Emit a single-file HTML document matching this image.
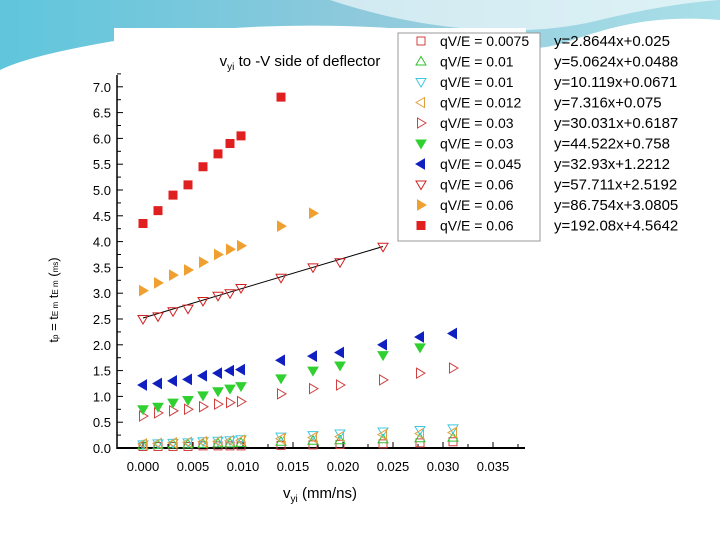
<!DOCTYPE html>
<html><head><meta charset="utf-8"><style>
body{margin:0;width:720px;height:540px;overflow:hidden;background:#fff;font-family:"Liberation Sans",sans-serif}
</style></head><body>
<svg width="720" height="540" viewBox="0 0 720 540" style="position:absolute;left:0;top:0">
<defs>
<linearGradient id="bg" x1="0" y1="0" x2="1" y2="0"><stop offset="0" stop-color="#5fc6dc"/><stop offset="0.5" stop-color="#8ec9dc"/><stop offset="1" stop-color="#a9dfe8"/></linearGradient>
</defs>
<path d="M0 0 H720 V20 C600 10 560 60 520 45 C400 20 250 20 120 40 C60 50 20 60 0 70 Z" fill="url(#bg)"/>
<path d="M330 0 C420 30 520 40 600 20 C650 8 690 2 720 0 Z" fill="#fff" opacity="0.6"/>
<rect x="114" y="28" width="412" height="482" fill="#fff"/>
<text x="300" y="66" font-size="15" text-anchor="middle">v<tspan font-size="10" dy="4">yi</tspan><tspan dy="-4"> to -V side of deflector</tspan></text>
<g id="axes"></g>
<g id="marks"></g>
<text x="320" y="498" font-size="15" text-anchor="middle">v<tspan font-size="10" dy="4">yi</tspan><tspan dy="-4"> (mm/ns)</tspan></text>
<text transform="translate(58,300) rotate(-90)" font-size="13" text-anchor="middle">t<tspan font-size="8">p</tspan> = t<tspan font-size="8">E m</tspan>  t<tspan font-size="8">E m</tspan>  (<tspan font-size="8">ms</tspan>)</text>
<rect x="398" y="33" width="142" height="208" fill="#fff" stroke="#999"/>
<g id="legend"></g>
</svg>
<script>
const xs=[0,0.0015,0.003,0.0045,0.006,0.0075,0.0087,0.0098,0.0138,0.017,0.0197,0.024,0.0277,0.031];
const names=["qV/E = 0.0075","qV/E = 0.01","qV/E = 0.01","qV/E = 0.012","qV/E = 0.03","qV/E = 0.03","qV/E = 0.045","qV/E = 0.06","qV/E = 0.06","qV/E = 0.06"];
const fits=["y=2.8644x+0.025","y=5.0624x+0.0488","y=10.119x+0.0671","y=7.316x+0.075","y=30.031x+0.6187","y=44.522x+0.758","y=32.93x+1.2212","y=57.711x+2.5192","y=86.754x+3.0805","y=192.08x+4.5642"];
const s0=[0.03,0.03,0.03,0.03,0.04,0.04,0.04,0.04,0.05,0.06,0.07,0.08,0.1,0.12];
const s1=[0.05,0.06,0.07,0.07,0.08,0.09,0.09,0.1,0.12,0.14,0.15,0.17,0.19,0.2];
const s2=[0.07,0.09,0.1,0.11,0.13,0.14,0.15,0.17,0.22,0.25,0.28,0.32,0.35,0.38];
const s3=[0.08,0.09,0.1,0.11,0.12,0.13,0.14,0.15,0.18,0.2,0.22,0.26,0.28,0.3];
const s4=[0.62,0.68,0.72,0.75,0.8,0.85,0.88,0.9,1.05,1.15,1.22,1.32,1.45,1.55];
const s5=[0.75,0.8,0.88,0.93,1.02,1.1,1.15,1.2,1.35,1.5,1.6,1.8,1.95];
const s6=[1.22,1.25,1.3,1.33,1.4,1.45,1.5,1.52,1.7,1.78,1.85,2.0,2.15,2.22];
const s7=[2.5,2.55,2.65,2.7,2.85,2.95,3.0,3.1,3.3,3.5,3.6,3.9];
const s8=[3.05,3.2,3.35,3.45,3.6,3.75,3.85,3.92,4.3,4.55];
const s9=[4.35,4.6,4.9,5.1,5.45,5.7,5.9,6.05,6.8];
const yTicks=[0,0.5,1,1.5,2,2.5,3,3.5,4,4.5,5,5.5,6,6.5,7];
const xTicks=[0,0.005,0.01,0.015,0.02,0.025,0.03,0.035];
const X=v=>143+v*10000, Y=v=>448-v*51.6;
const NS="http://www.w3.org/2000/svg";
function mk(p,t,a){const e=document.createElementNS(NS,t);for(const k in a)e.setAttribute(k,a[k]);p.appendChild(e);return e;}
const ax=document.getElementById('axes');
let e=mk(ax,'line',{x1:117,y1:448,x2:525,y2:448,stroke:'#000','stroke-width':2});


e=mk(ax,'line',{x1:117,y1:75,x2:117,y2:449,stroke:'#000','stroke-width':1.5});


yTicks.forEach(v=>{mk(ax,'line',{x1:117,x2:123,y1:Y(v),y2:Y(v),stroke:'#000'});
 mk(ax,'line',{x1:117,x2:121,y1:Y(v+0.25),y2:Y(v+0.25),stroke:'#000'});
 const t=mk(ax,'text',{x:111,y:Y(v)+5,'font-size':13,'text-anchor':'end'});t.textContent=v.toFixed(1);
 
 });
xTicks.forEach(v=>{mk(ax,'line',{x1:X(v),x2:X(v),y1:448,y2:442,stroke:'#000'});
 mk(ax,'line',{x1:X(v+0.0025),x2:X(v+0.0025),y1:448,y2:444,stroke:'#000'});
 const t=mk(ax,'text',{x:X(v),y:471,'font-size':13,'text-anchor':'middle'});t.textContent=v.toFixed(3);
 
 });
const styles=[['sq','#d04040',0],['up','#30c030',0],['down','#40c8e0',0],['left','#e0a040',0],['right','#d04040',0],['down','#30d030',1],['left','#1020c0',1],['down','#d02020',0],['right','#f0a030',1],['sq','#e02020',1]];
const series=[s0,s1,s2,s3,s4,s5,s6,s7,s8,s9];
function shape(g,kind,cx,cy,col,fill){let d;const r=5;
 if(kind=='sq')d=`M${cx-4} ${cy-4}h8v8h-8z`;
 if(kind=='up')d=`M${cx} ${cy-r}L${cx+r} ${cy+r*0.7}L${cx-r} ${cy+r*0.7}z`;
 if(kind=='down')d=`M${cx} ${cy+r}L${cx+r} ${cy-r*0.7}L${cx-r} ${cy-r*0.7}z`;
 if(kind=='left')d=`M${cx-r} ${cy}L${cx+r*0.7} ${cy-r}L${cx+r*0.7} ${cy+r}z`;
 if(kind=='right')d=`M${cx+r} ${cy}L${cx-r*0.7} ${cy-r}L${cx-r*0.7} ${cy+r}z`;
 return mk(g,'path',{d:d,fill:fill?col:'none',stroke:col,'stroke-width':1});}
const mg=document.getElementById('marks');
mk(mg,'line',{x1:X(0),y1:Y(2.52),x2:X(0.024),y2:Y(2.52+57.711*0.024),stroke:'#000'});
series.forEach((s,i)=>{s.forEach((v,j)=>{const p=shape(mg,styles[i][0],X(xs[j]),Y(v),styles[i][1],styles[i][2]);
 
 });});
const lg=document.getElementById('legend');
names.forEach((n,i)=>{const y=46+i*20.5;const p=shape(lg,styles[i][0],421,y-5,styles[i][1],styles[i][2]);
 
 
 let t=mk(lg,'text',{x:440,y:y,'font-size':14});t.textContent=n;
 
 
 t=mk(lg,'text',{x:554,y:y,'font-size':15});t.textContent=fits[i];
 
 });
</script>
</body></html>
